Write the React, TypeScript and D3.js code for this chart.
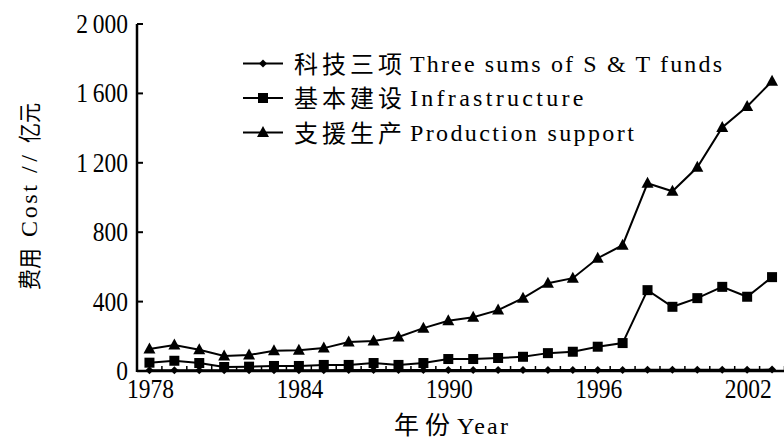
import React from 'react'
import * as d3 from 'd3'

const years = d3.range(1978, 2004)

// 科技三项 Three sums of S & T funds
const stFunds = [4, 4, 5, 4, 4, 5, 5, 5, 6, 6, 6, 6, 6, 6, 6, 6, 6, 6, 6, 6, 7, 7, 7, 7, 7, 8]
// 基本建设 Infrastructure
const infrastructure = [48, 59, 46, 23, 25, 29, 29, 35, 35, 46, 35, 46, 69, 69, 75, 82, 103, 111, 140, 161, 466, 370, 420, 485, 428, 541]
// 支援生产 Production support
const production = [127, 150, 122, 86, 92, 117, 120, 132, 167, 173, 196, 247, 290, 310, 351, 420, 506, 535, 650, 725, 1082, 1036, 1174, 1404, 1525, 1670]

const yTicks = [0, 400, 800, 1200, 1600, 2000]
const xLabelYears = [1978, 1984, 1990, 1996, 2002]

const seriesNames = [
  { zh: '科技三项', en: 'Three sums of S & T funds', shape: 'diamond' },
  { zh: '基本建设', en: 'Infrastructure', shape: 'square' },
  { zh: '支援生产', en: 'Production support', shape: 'triangle' }
]

const serif = '"Liberation Serif", "DejaVu Serif", serif'
const cjk = '"Noto Sans CJK SC", sans-serif'

const fmt = (v: number) => (v >= 1000 ? d3.format(',')(v).replace(',', '\u2009') : String(v))

function marker(shape: string, x: number, y: number, key: string | number) {
  if (shape === 'diamond') {
    const s = 4
    return <path key={key} d={`M${x},${y - s}L${x + s},${y}L${x},${y + s}L${x - s},${y}Z`} fill="#000" />
  }
  if (shape === 'square') {
    return <rect key={key} x={x - 5} y={y - 5} width={10} height={10} fill="#000" />
  }
  return <path key={key} d={`M${x},${y - 6.5}L${x + 6},${y + 4.5}L${x - 6},${y + 4.5}Z`} fill="#000" />
}

export default function App() {
  const width = 784
  const height = 448
  const x = d3.scaleLinear().domain([1977.5, 2003.5]).range([137, 784.5])
  const y = d3.scaleLinear().domain([0, 2000]).range([371, 24])

  const line = d3.line<number>().x((_, i) => x(years[i])).y(d => y(d))
  const data = [stFunds, infrastructure, production]
  const minor = d3.range(1978, 2004).map(v => v + 0.5)

  return (
    <svg width={width} height={height} style={{ position: 'absolute', left: 0, top: 0, background: '#fff' }}>
      {/* series */}
      {data.map((vals, si) => (
        <g key={si}>
          <path d={line(vals) || ''} fill="none" stroke="#000" strokeWidth={2} />
          {vals.map((v, i) => marker(seriesNames[si].shape, x(years[i]), y(v), i))}
        </g>
      ))}

      {/* axes */}
      <line x1={x(1977.5)} x2={x(1977.5)} y1={y(2000)} y2={y(0) + 1} stroke="#000" strokeWidth={2.5} />
      <line x1={x(1977.5)} x2={width} y1={y(0)} y2={y(0)} stroke="#000" strokeWidth={2.5} />
      {yTicks.map(t => (
        <g key={t}>
          <line x1={x(1977.5)} x2={x(1977.5) + 6} y1={y(t)} y2={y(t)} stroke="#000" strokeWidth={2} />
          <text transform={`translate(128,${y(t) + 9}) scale(0.87,1)`} textAnchor="end"
            fontFamily={serif} fontSize={27} fill="#000">{fmt(t)}</text>
        </g>
      ))}
      {minor.map(m => (
        <line key={m} x1={x(m)} x2={x(m)} y1={y(0)} y2={y(0) - 5} stroke="#000" strokeWidth={1.5} />
      ))}
      {xLabelYears.map(yr => (
        <text key={yr} transform={`translate(${x(yr) + 1},398) scale(0.87,1)`} textAnchor="middle"
          fontFamily={serif} fontSize={27} fill="#000">{yr}</text>
      ))}

      {/* axis titles */}
      <text x={394} y={434} fontFamily={cjk} fontSize={25} textLength={56} lengthAdjust="spacing" fill="#000">年份</text>
      <text x={457} y={434} fontFamily={serif} fontSize={24} textLength={51} lengthAdjust="spacing" fill="#000">Year</text>
      <g transform="translate(38,0) rotate(-90)" fill="#000">
        <text x={-290} y={0} fontFamily={cjk} fontSize={23} textLength={42} lengthAdjust="spacingAndGlyphs">费用</text>
        <text x={-237} y={-1} fontFamily={serif} fontSize={24} textLength={52} lengthAdjust="spacing">Cost</text>
        <text x={-173} y={-1} fontFamily={serif} fontSize={24} textLength={18} lengthAdjust="spacing">//</text>
        <text x={-143} y={0} fontFamily={cjk} fontSize={23} textLength={40} lengthAdjust="spacingAndGlyphs">亿元</text>
      </g>

      {/* legend */}
      {seriesNames.map((s, i) => {
        const ly = 63.5 + i * 34.5
        return (
          <g key={s.en}>
            <line x1={243} x2={283} y1={ly} y2={ly} stroke="#000" strokeWidth={2} />
            {marker(s.shape, 263, ly, 'm')}
            <text x={294} y={ly + 9} fontFamily={cjk} fontSize={24} fill="#000"
              textLength={108} lengthAdjust="spacing">{s.zh}</text>
            <text x={410} y={ly + 8} fontFamily={serif} fontSize={24} fill="#000"
              textLength={s.en.length * 12.6 - 3} lengthAdjust="spacing">{s.en}</text>
          </g>
        )
      })}
    </svg>
  )
}
